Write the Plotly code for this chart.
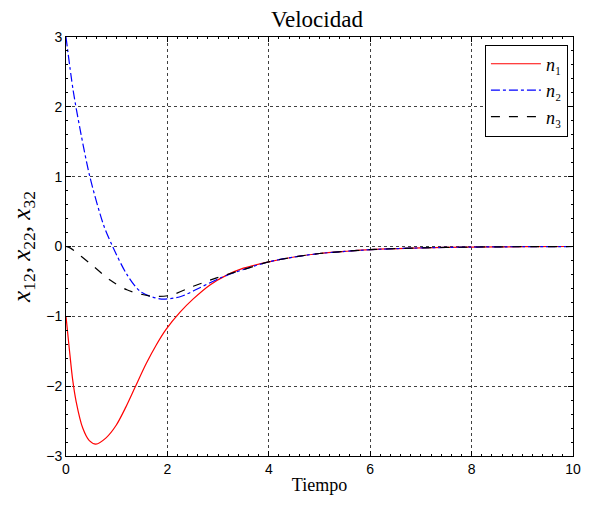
import plotly.graph_objects as go

# Time samples
t1 = [0, 0.07, 0.13, 0.2, 0.33, 0.46, 0.59, 0.79, 0.99, 1.18, 1.36, 1.58, 1.78, 1.97, 2.25, 2.51, 2.84, 3.17, 3.5, 4.0, 4.5, 5.0, 5.5, 6.0, 7.0, 8.0, 9.0, 10.0]
n1 = [-1.0, -1.5, -1.9, -2.22, -2.6, -2.78, -2.83, -2.74, -2.56, -2.30, -2.02, -1.68, -1.41, -1.19, -0.94, -0.75, -0.55, -0.41, -0.31, -0.22, -0.15, -0.10, -0.07, -0.045, -0.02, -0.008, -0.003, 0.0]

t2 = [0, 0.14, 0.28, 0.47, 0.74, 0.92, 1.2, 1.46, 1.85, 2.25, 2.64, 3.04, 3.5, 4.0, 4.5, 5.0, 5.5, 6.0, 7.0, 8.0, 9.0, 10.0]
n2 = [3.0, 2.24, 1.67, 1.0, 0.31, 0.0, -0.40, -0.64, -0.75, -0.72, -0.59, -0.45, -0.33, -0.22, -0.15, -0.10, -0.07, -0.045, -0.02, -0.008, -0.003, 0.0]

t3 = [0, 0.08, 0.47, 0.87, 1.2, 1.66, 2.05, 2.51, 2.97, 3.5, 4.0, 4.5, 5.0, 5.5, 6.0, 7.0, 8.0, 9.0, 10.0]
n3 = [0.0, -0.02, -0.24, -0.48, -0.62, -0.71, -0.70, -0.57, -0.45, -0.33, -0.22, -0.15, -0.10, -0.07, -0.045, -0.02, -0.008, -0.003, 0.0]

x_ticks = [0, 2, 4, 6, 8, 10]
y_ticks = [-3, -2, -1, 0, 1, 2, 3]
y_tick_text = ["\u22123", "\u22122", "\u22121", "0", "1", "2", "3"]

serif = "Liberation Serif, DejaVu Serif, serif"
sans = "Liberation Sans, Arial, sans-serif"

fig = go.Figure()
fig.add_trace(go.Scatter(x=t1, y=n1, mode="lines", line=dict(color="red", width=1.2, shape="spline", smoothing=0.8),
                         name="<i>n</i>\u2081"))
fig.add_trace(go.Scatter(x=t2, y=n2, mode="lines", line=dict(color="blue", width=1.2, dash="dashdot", shape="spline", smoothing=0.8),
                         name="<i>n</i>\u2082"))
fig.add_trace(go.Scatter(x=t3, y=n3, mode="lines", line=dict(color="black", width=1.2, dash="dash", shape="spline", smoothing=0.8),
                         name="<i>n</i>\u2083"))

axis_common = dict(
    showline=True, linecolor="black", linewidth=1, mirror="ticks",
    ticks="inside", ticklen=5, tickcolor="black",
    showgrid=True, gridcolor="rgba(0,0,0,0.75)", griddash="dot", gridwidth=1,
    zeroline=False, tickfont=dict(family=sans, size=14, color="black"),
    automargin=False,
)

fig.update_layout(
    width=598, height=506,
    paper_bgcolor="white", plot_bgcolor="white",
    margin=dict(l=66, r=25, t=37, b=50),
    title=dict(text="Velocidad", x=0.53, xanchor="center", y=0.962, yanchor="middle",
               font=dict(family=serif, size=23, color="black")),
    xaxis=dict(range=[0, 10], tickvals=x_ticks,
               title=dict(text="Tiempo", font=dict(family=serif, size=18, color="black"), standoff=2),
               minor=dict(ticks="inside", ticklen=2, dtick=0.2, tickcolor="black", showgrid=False),
               **axis_common),
    yaxis=dict(range=[-3, 3], tickvals=y_ticks, ticktext=y_tick_text,
               title=dict(text="<i>x</i><sub>12</sub>, <i>x</i><sub>22</sub>, <i>x</i><sub>32</sub>",
                          font=dict(family=serif, size=25, color="black"), standoff=8),
               minor=dict(ticks="inside", ticklen=2, dtick=0.2, tickcolor="black", showgrid=False),
               **axis_common),
    legend=dict(x=0.99, y=0.982, xanchor="right", yanchor="top",
                bgcolor="white", bordercolor="black", borderwidth=1,
                font=dict(family=serif, size=18, color="black"),
                tracegroupgap=0, itemwidth=50),
    showlegend=True,
)

fig.write_html("out.html", config={"displayModeBar": False},
               post_script="document.body.style.margin='0';document.body.style.padding='0';")
